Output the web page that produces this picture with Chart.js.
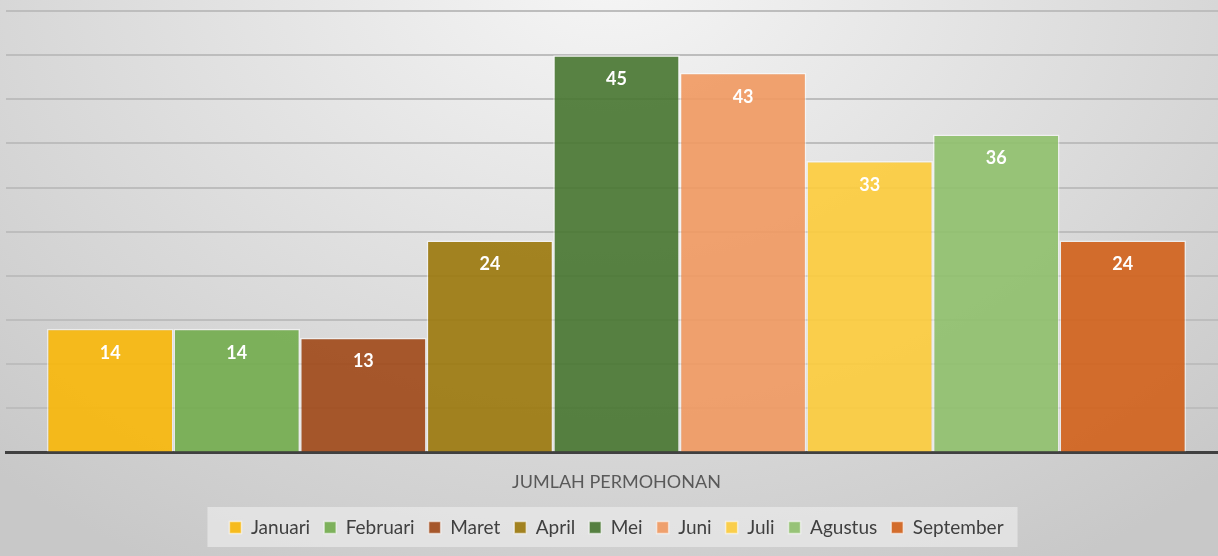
<!DOCTYPE html>
<html>
<head>
<meta charset="utf-8">
<script src="https://cdn.jsdelivr.net/npm/chart.js@4"></script>
<style>
  html, body { margin: 0; padding: 0; overflow: hidden; width: 1218px; height: 556px; }
  body {
    background: radial-gradient(ellipse 900px 700px at 610px -40px, #f6f6f6 0%, #e6e6e6 35%, #d6d6d6 70%, #c8c8c8 100%);
  }
  canvas { display: block; }
</style>
</head>
<body>
<canvas id="myChart" width="1232" height="556"></canvas>
<script>
var category = ['JUMLAH PERMOHONAN'];
var months = ['Januari', 'Februari', 'Maret', 'April', 'Mei', 'Juni', 'Juli', 'Agustus', 'September'];
var values = [14, 14, 13, 24, 45, 43, 33, 36, 24];
var colors = ['#F8B708', '#72AC4D', '#A04817', '#9B780B', '#477630', '#F19961', '#FDCC3B', '#8FC06C', '#D2611A'];

var ctx = document.getElementById('myChart').getContext('2d');

var datasets = [];
for (var i = 0; i < months.length; i++) {
    datasets.push({
        label: months[i],
        data: [values[i]],
        backgroundColor: colors[i] + 'E6',
        borderColor: 'rgba(255,255,255,0.55)',
        borderWidth: 1.5,
        borderSkipped: 'bottom'
    });
}

// white value labels inside the bars
var valueLabels = {
    id: 'valueLabels',
    afterDatasetsDraw: function(chart) {
        var c = chart.ctx;
        c.save();
        c.fillStyle = '#ffffff';
        c.font = 'bold 18px Lato';
        c.textAlign = 'center';
        c.textBaseline = 'middle';
        chart.data.datasets.forEach(function(ds, i) {
            chart.getDatasetMeta(i).data.forEach(function(bar, j) {
                c.fillText(ds.data[j], bar.x, bar.y + 24);
            });
        });
        c.restore();
    }
};

// light panel behind the legend
var legendPanel = {
    id: 'legendPanel',
    beforeDraw: function(chart) {
        var boxes = chart.legend.legendHitBoxes;
        if (!boxes || !boxes.length) return;
        var first = boxes[0], last = boxes[boxes.length - 1];
        var c = chart.ctx;
        c.save();
        c.fillStyle = 'rgba(232,232,232,0.75)';
        c.fillRect(first.left - 22, first.top - 11, last.left + last.width - first.left + 36, 40);
        c.restore();
    }
};

var myChart = new Chart(ctx, {
    type: 'bar',
    data: { labels: category, datasets: datasets },
    options: {
        responsive: false,
        animation: false,
        layout: { padding: { left: 6, right: 5, top: 11, bottom: 9 } },
        datasets: { bar: { categoryPercentage: 0.933, barPercentage: 1 } },
        scales: {
            x: {
                grid: { display: false },
                border: { color: '#404040', width: 3 },
                ticks: { color: '#595959', font: { family: 'Lato', size: 18 }, padding: 11 }
            },
            y: {
                min: 0,
                max: 50,
                ticks: { display: false, stepSize: 5 },
                border: { display: false },
                grid: { color: '#bdbdbd', lineWidth: 2, drawTicks: false }
            }
        },
        plugins: {
            legend: {
                position: 'bottom',
                labels: {
                    color: '#404040',
                    font: { family: 'Lato', size: 19 },
                    boxWidth: 12,
                    boxHeight: 12,
                    padding: 14
                }
            },
            tooltip: { enabled: false }
        }
    },
    plugins: [valueLabels, legendPanel]
});
</script>
</body>
</html>
